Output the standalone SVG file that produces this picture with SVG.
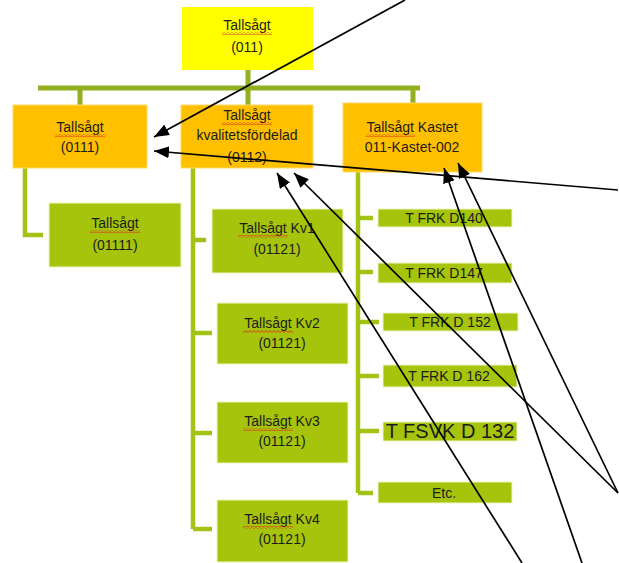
<svg xmlns="http://www.w3.org/2000/svg" width="619" height="563" viewBox="0 0 619 563">
  <defs>
    <style>
      .lbl { font-family: "Liberation Sans", Arial, sans-serif; font-size: 14px; fill: #1c1c1c; text-anchor: middle; }
      .big { font-size: 20px; }
      .top { fill: #FFFF00; }
      .org { fill: #FFC000; stroke: #FFD966; stroke-width: 1; }
      .grn { fill: #A6C40C; stroke: #EEF5C0; stroke-width: 1; }
      .bar { stroke: #93B01E; stroke-width: 5; fill: none; }
      .tie { stroke: #A2C214; stroke-width: 4.5; fill: none; }
      .arr { stroke: #000; stroke-width: 1.7; fill: none; marker-end: url(#head); }
      .squig { fill: url(#wave); }
    </style>
    <pattern id="wave" patternUnits="userSpaceOnUse" width="4" height="3">
      <path d="M0,2.4 L2,0.6 L4,2.4" fill="none" stroke="#E0301E" stroke-width="0.9"/>
    </pattern>
    <marker id="head" markerUnits="userSpaceOnUse" markerWidth="16" markerHeight="12" refX="15" refY="6" orient="auto">
      <path d="M0,0 L15,6 L0,12 z" fill="#000"/>
    </marker>
  </defs>

  <!-- tree connectors -->
  <g id="connectors">
    <path class="bar" d="M248,70 V88 M38,88 H420 M80,88 V105 M248,88 V105 M413,88 V103"/>
    <path class="tie" d="M25,168 V235 H43"/>
    <path class="tie" d="M193,168 V529 M193,240 H206 M193,333 H212 M193,433 H212 M193,529 H212"/>
    <path class="tie" d="M358,172 V493 M358,218 H373 M358,272 H373 M358,322 H379 M358,376 H379 M358,431 H379 M358,493 H373"/>
  </g>

  <!-- root -->
  <g id="n-011">
    <rect class="top" x="182" y="7" width="131" height="63"/>
    <text class="lbl" x="247" y="30">Tallsågt</text>
    <rect class="squig" x="222" y="32" width="50" height="3"/>
    <text class="lbl" x="247" y="52">(011)</text>
  </g>

  <!-- second level -->
  <g id="n-0111">
    <rect class="org" x="13" y="105" width="134" height="63"/>
    <text class="lbl" x="80" y="132">Tallsågt</text>
    <rect class="squig" x="55" y="134" width="50" height="3"/>
    <text class="lbl" x="80" y="152">(0111)</text>
  </g>
  <g id="n-0112">
    <rect class="org" x="181" y="105" width="132" height="63"/>
    <text class="lbl" x="247" y="120">Tallsågt</text>
    <rect class="squig" x="222" y="122" width="50" height="3"/>
    <text class="lbl" x="247" y="140">kvalitetsfördelad</text>
    <text class="lbl" x="247" y="162">(0112)</text>
  </g>
  <g id="n-kastet">
    <rect class="org" x="343" y="103" width="139" height="69"/>
    <text class="lbl" x="412" y="132">Tallsågt Kastet</text>
    <rect class="squig" x="366" y="134" width="49" height="3"/>
    <text class="lbl" x="412" y="152">011-Kastet-002</text>
  </g>

  <!-- third level, left -->
  <g id="n-01111">
    <rect class="grn" x="49" y="203" width="132" height="64"/>
    <text class="lbl" x="115" y="228">Tallsågt</text>
    <rect class="squig" x="90" y="230" width="50" height="3"/>
    <text class="lbl" x="115" y="250">(01111)</text>
  </g>

  <!-- third level, quality classes -->
  <g id="n-kv1">
    <rect class="grn" x="212" y="209" width="131" height="64"/>
    <text class="lbl" x="277" y="233">Tallsågt Kv1</text>
    <rect class="squig" x="238" y="235" width="50" height="3"/>
    <text class="lbl" x="277" y="254">(01121)</text>
  </g>
  <g id="n-kv2">
    <rect class="grn" x="217" y="303" width="131" height="61"/>
    <text class="lbl" x="282" y="328">Tallsågt Kv2</text>
    <rect class="squig" x="243" y="330" width="50" height="3"/>
    <text class="lbl" x="282" y="348">(01121)</text>
  </g>
  <g id="n-kv3">
    <rect class="grn" x="217" y="402" width="131" height="61"/>
    <text class="lbl" x="282" y="426">Tallsågt Kv3</text>
    <rect class="squig" x="243" y="428" width="50" height="3"/>
    <text class="lbl" x="282" y="446">(01121)</text>
  </g>
  <g id="n-kv4">
    <rect class="grn" x="217" y="500" width="131" height="62"/>
    <text class="lbl" x="282" y="524">Tallsågt Kv4</text>
    <rect class="squig" x="243" y="526" width="50" height="3"/>
    <text class="lbl" x="282" y="544">(01121)</text>
  </g>

  <!-- third level, cast-off grades -->
  <g id="n-d140">
    <rect class="grn" x="378" y="209" width="134" height="18"/>
    <text class="lbl" x="444" y="223">T FRK D140</text>
  </g>
  <g id="n-d147">
    <rect class="grn" x="378" y="263" width="134" height="20"/>
    <text class="lbl" x="444" y="278">T FRK D147</text>
  </g>
  <g id="n-d152">
    <rect class="grn" x="383" y="313" width="135" height="18"/>
    <text class="lbl" x="450" y="327">T FRK D 152</text>
  </g>
  <g id="n-d162">
    <rect class="grn" x="383" y="365" width="134" height="22"/>
    <text class="lbl" x="449" y="381">T FRK D 162</text>
  </g>
  <g id="n-d132">
    <rect class="grn" x="383" y="422" width="134" height="19"/>
    <text class="lbl big" x="450" y="438">T FSVK D 132</text>
  </g>
  <g id="n-etc">
    <rect class="grn" x="378" y="482" width="134" height="21"/>
    <text class="lbl" x="444" y="498">Etc.</text>
  </g>

  <!-- pointer arrows -->
  <g id="arrows">
    <line class="arr" x1="405" y1="0" x2="154" y2="137"/>
    <line class="arr" x1="618" y1="190" x2="154" y2="151"/>
    <line class="arr" x1="522" y1="563" x2="277" y2="173"/>
    <line class="arr" x1="618" y1="493" x2="294" y2="173"/>
    <line class="arr" x1="582" y1="563" x2="444" y2="168"/>
    <line class="arr" x1="618" y1="493" x2="458" y2="163"/>
  </g>
</svg>
